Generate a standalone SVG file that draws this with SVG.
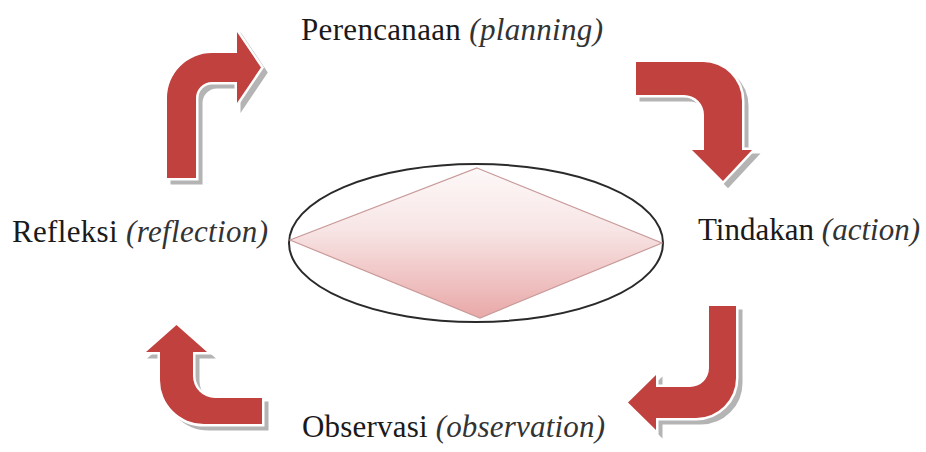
<svg xmlns="http://www.w3.org/2000/svg" xmlns:xlink="http://www.w3.org/1999/xlink" width="926" height="452" viewBox="0 0 926 452">
<style>
.lbl{font-family:"Liberation Serif","Times New Roman",serif;font-size:31px;fill:#1a1a1a}
.it{font-style:italic;fill:#333}
.arrow{fill:#c0413e;stroke:#fff;stroke-width:5;stroke-linejoin:miter;paint-order:stroke}
.shadow{fill:#a8a8a8;stroke:#a8a8a8;stroke-width:3;opacity:0.85}
</style>
<defs>
<linearGradient id="dg" x1="0" y1="0" x2="0" y2="1">
<stop offset="0" stop-color="#fdf8f8"/>
<stop offset="0.4" stop-color="#f8e6e6"/>
<stop offset="1" stop-color="#e9a8a8"/>
</linearGradient>
<path id="a1" d="M167,178 L167,98 A45,45 0 0 1 212,53 L237,53 L237,32 L261,67.5 L237,103 L237,82 L212,82 A16,16 0 0 0 196,98 L196,178 Z"/>
<path id="a2" d="M636,62 L703,62 A39,39 0 0 1 742,101 L742,150 L752,150 L723,181 L692,150 L704,150 L704,115 A20,20 0 0 0 684,95 L636,95 Z"/>
<path id="a3" d="M709,306 L736,306 L736,378 A40,40 0 0 1 696,418 L656,418 L656,430 L628,402.5 L656,375 L656,387 L690,387 A19,19 0 0 0 709,368 Z"/>
<path id="a4" d="M262,398 L215,398 A22,22 0 0 1 193,376 L193,352 L207,352 L176.5,325 L146,352 L160,352 L160,380 A44,44 0 0 0 204,424 L262,424 Z"/>
</defs>
<rect width="926" height="452" fill="#fff"/>

<g id="center">
<ellipse cx="476" cy="243" rx="187" ry="79" fill="#fff" stroke="#2a2a2a" stroke-width="2"/>
<polygon points="477,168 662,243 480,318 290,240" fill="url(#dg)" stroke="#c99a9a" stroke-width="1.2"/>
</g>

<g id="connectors">
<g id="arrow-plan-to-action">
<use xlink:href="#a2" class="shadow" transform="translate(5,5)"/>
<use xlink:href="#a2" class="arrow"/>
</g>
<g id="arrow-action-to-observation">
<use xlink:href="#a3" class="shadow" transform="translate(5,5)"/>
<use xlink:href="#a3" class="arrow"/>
</g>
<g id="arrow-observation-to-reflection">
<use xlink:href="#a4" class="shadow" transform="translate(5,5)"/>
<use xlink:href="#a4" class="arrow"/>
</g>
<g id="arrow-reflection-to-plan">
<use xlink:href="#a1" class="shadow" transform="translate(5,5)"/>
<use xlink:href="#a1" class="arrow"/>
</g>
</g>

<g id="node-planning">
<text class="lbl" x="301" y="40" textLength="302">Perencanaan <tspan class="it">(planning)</tspan></text>
</g>
<g id="node-action">
<text class="lbl" x="698" y="240" textLength="222">Tindakan <tspan class="it">(action)</tspan></text>
</g>
<g id="node-observation">
<text class="lbl" x="302" y="437" textLength="303">Observasi <tspan class="it">(observation)</tspan></text>
</g>
<g id="node-reflection">
<text class="lbl" x="12" y="242" textLength="256">Refleksi <tspan class="it">(reflection)</tspan></text>
</g>
</svg>
